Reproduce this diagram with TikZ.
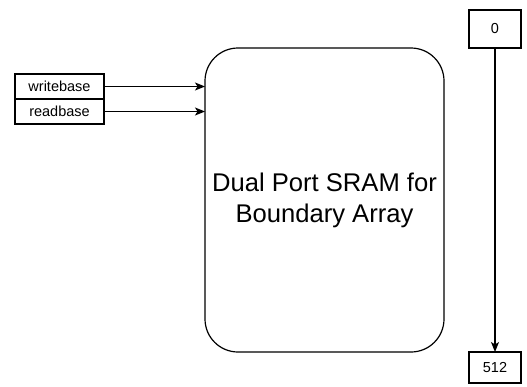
\documentclass[tikz,border=0pt]{standalone}
\usepackage{fontspec}
\setmainfont{Liberation Sans}
\usetikzlibrary{arrows.meta}
\begin{document}
\begin{tikzpicture}[x=1pt,y=-1pt,
  box/.style={draw=black,line width=1.2pt,inner sep=0pt,outer sep=0pt,anchor=north west,font=\fontsize{14.5}{17}\selectfont},
  arr/.style={draw=black,line width=1.2pt,-{Stealth[length=10pt,width=8pt,inset=2.5pt]}}]
\useasboundingbox (0,0) rectangle (527,386);
\node[box,minimum width=239pt,minimum height=304pt,rounded corners=33pt,align=center,
  font=\fontsize{25.6}{31}\selectfont] (main) at (205,48) {Dual Port SRAM for\\Boundary Array};
\node[box,minimum width=89pt,minimum height=25pt] (wb) at (15,74) {writebase};
\node[box,minimum width=89pt,minimum height=25pt] (rb) at (15,99) {readbase};
\node[box,minimum width=52pt,minimum height=38pt] (z) at (469,10) {0};
\node[box,minimum width=52pt,minimum height=31pt] (t) at (469,352) {512};
\draw[arr] (wb.east) -- (wb.east -| main.west);
\draw[arr] (rb.east) -- (rb.east -| main.west);
\draw[arr] (z.south) -- (t.north);
\end{tikzpicture}
\end{document}
